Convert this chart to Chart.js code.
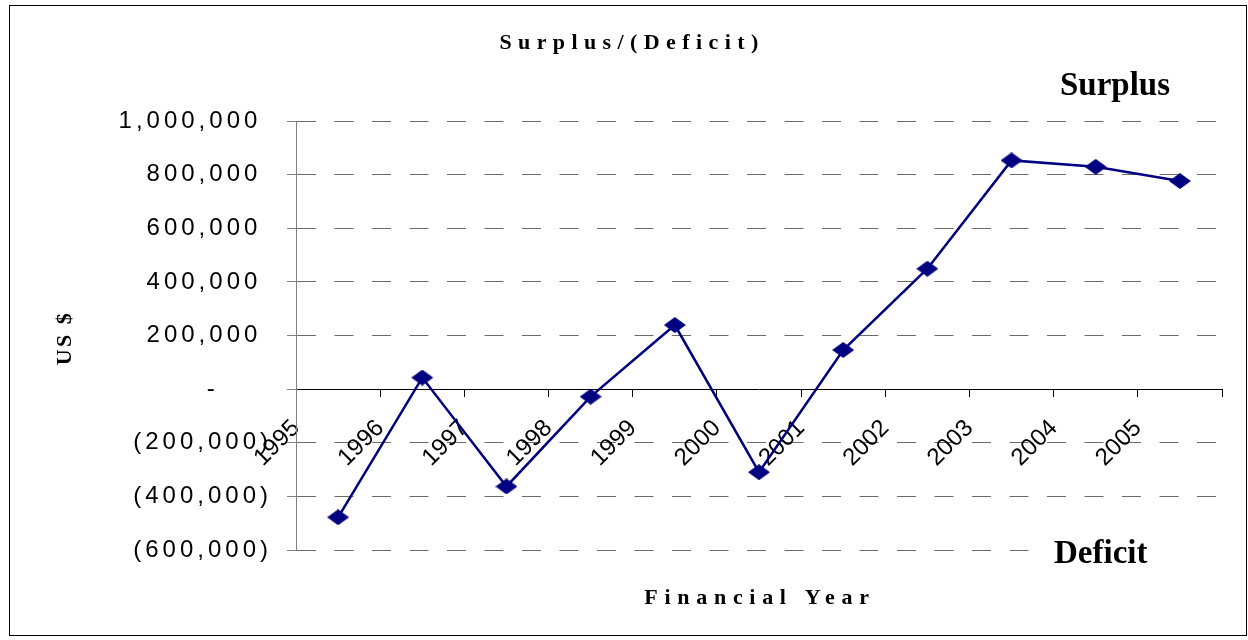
<!DOCTYPE html>
<html>
<head>
<meta charset="utf-8">
<title>Surplus/(Deficit)</title>
<script src="https://cdn.jsdelivr.net/npm/chart.js@4.4.0/dist/chart.umd.min.js"></script>
<style>
  html, body { margin: 0; padding: 0; background: #fff; }
  canvas { display: block; }
</style>
</head>
<body>
<canvas id="surplusChart" width="1248" height="640"></canvas>
<script>
// financial years on the x axis
let years = ['1995', '1996', '1997', '1998', '1999', '2000', '2001', '2002', '2003', '2004', '2005'];

// surplus / (deficit) in US $
let surplus = [-478000, 43000, -363000, -28000, 239000, -310000, 146000, 449000, 853000, 829000, 776000];

// value axis
let yMin = -600000;
let yMax = 1000000;
let yStep = 200000;

let titleText = 'Surplus/(Deficit)';
let xTitleText = 'Financial Year';
let yTitleText = 'US $';
let upperNote = 'Surplus';
let lowerNote = 'Deficit';

const navy = '#000080';

// excel style accounting labels: 1,000,000 / - / (200,000)
function money(v) {
  let s = Math.abs(v).toLocaleString('en-US');
  if (v === 0) return '-     ';
  if (v < 0) return '(' + s + ')';
  return s + ' ';
}

// diamond marker, a bit wider than tall
function makeDiamond(w, h, color) {
  let c = document.createElement('canvas');
  c.width = w;
  c.height = h;
  let g = c.getContext('2d');
  g.fillStyle = color;
  g.beginPath();
  g.moveTo(w / 2, 0);
  g.lineTo(w, h / 2);
  g.lineTo(w / 2, h);
  g.lineTo(0, h / 2);
  g.closePath();
  g.fill();
  return c;
}

let points = surplus.map((v, i) => ({ x: i + 0.5, y: v }));

function spacedText(ctx, text, x, y, font, spacing, align) {
  ctx.save();
  ctx.font = font;
  ctx.letterSpacing = spacing + 'px';
  ctx.textAlign = align || 'center';
  ctx.textBaseline = 'alphabetic';
  ctx.fillStyle = '#000';
  ctx.fillText(text, x, y);
  ctx.restore();
}

let chartText = {
  id: 'chartText',
  afterLayout(chart) {
    // value labels in the original are letter spaced
    let y = chart.scales.y;
    if (y && !y._spaced) {
      let orig = y.drawLabels;
      y.drawLabels = function (area) {
        let prev = this.ctx.letterSpacing;
        this.ctx.letterSpacing = '4px';
        orig.call(this, area);
        this.ctx.letterSpacing = prev;
      };
      y._spaced = true;
    }
  },
  beforeDraw(chart) {
    let ctx = chart.ctx;
    ctx.save();
    ctx.fillStyle = '#fff';
    ctx.fillRect(0, 0, chart.width, chart.height);
    ctx.restore();
  },
  afterDraw(chart) {
    let ctx = chart.ctx;
    let area = chart.chartArea;

    // frame round the whole chart
    ctx.save();
    ctx.strokeStyle = '#000';
    ctx.lineWidth = 1;
    ctx.strokeRect(9.5, 5.5, 1237, 630);
    ctx.restore();

    spacedText(ctx, titleText, 632, 49, 'bold 22px "Liberation Serif"', 6.4);
    spacedText(ctx, xTitleText, 760, 604, 'bold 22px "Liberation Serif"', 6.7);

    // y axis title, turned
    ctx.save();
    ctx.translate(71, 339);
    ctx.rotate(-Math.PI / 2);
    spacedText(ctx, yTitleText, 1, 0, 'bold 22px "Liberation Serif"', 2.5);
    ctx.restore();

    spacedText(ctx, upperNote, 1060, 95, 'bold 33px "Liberation Serif"', 0, 'left');

    // white box behind "Deficit" hides the bottom grid line
    ctx.save();
    ctx.fillStyle = '#fff';
    ctx.fillRect(1036, 530, area.right - 1036 + 2, 40);
    ctx.restore();
    spacedText(ctx, lowerNote, 1054, 563, 'bold 33px "Liberation Serif"', 0, 'left');
  }
};

let ctx = document.getElementById('surplusChart').getContext('2d');
let chart = new Chart(ctx, {
  type: 'line',
  data: {
    datasets: [{
      label: 'Surplus/(Deficit)',
      data: points,
      borderColor: navy,
      backgroundColor: navy,
      borderWidth: 2.5,
      tension: 0,
      fill: false,
      pointStyle: makeDiamond(22, 16, navy),
      pointRadius: 8,
      clip: false
    }]
  },
  options: {
    responsive: false,
    animation: false,
    events: [],
    font: { family: '"Liberation Sans", Arial, sans-serif' },
    layout: { padding: { top: 121, bottom: 90, left: 10, right: 26 } },
    plugins: {
      legend: { display: false },
      tooltip: { enabled: false },
      title: { display: false }
    },
    scales: {
      x: {
        type: 'linear',
        position: { y: 0 },
        min: 0,
        max: years.length,
        offset: false,
        afterFit: s => { s.paddingLeft = 0; s.paddingRight = 0; },
        grid: {
          drawOnChartArea: false,
          drawTicks: true,
          tickLength: 7,
          tickColor: '#000',
          tickWidth: 1
        },
        border: { display: true, color: '#000', width: 1 },
        ticks: {
          stepSize: 1,
          autoSkip: false,
          minRotation: 45,
          maxRotation: 45,
          padding: 18,
          color: '#000',
          font: { size: 24, family: '"Liberation Sans", Arial, sans-serif' },
          callback: v => years[v] || ''
        }
      },
      y: {
        type: 'linear',
        min: yMin,
        max: yMax,
        afterFit: s => { s.width = 286; },
        grid: {
          color: c => (c.tick && c.tick.value === 0) ? 'rgba(0,0,0,0)' : '#6b6b6b',
          lineWidth: 1,
          drawTicks: true,
          tickLength: 9,
          tickColor: '#808080',
          tickBorderDash: []
        },
        border: { display: true, color: '#808080', width: 1, dash: [19, 18.5] },
        ticks: {
          stepSize: yStep,
          padding: 15,
          color: '#000',
          font: { size: 24, family: '"Liberation Sans", Arial, sans-serif' },
          callback: v => money(v)
        }
      }
    }
  },
  plugins: [chartText]
});
</script>
</body>
</html>
